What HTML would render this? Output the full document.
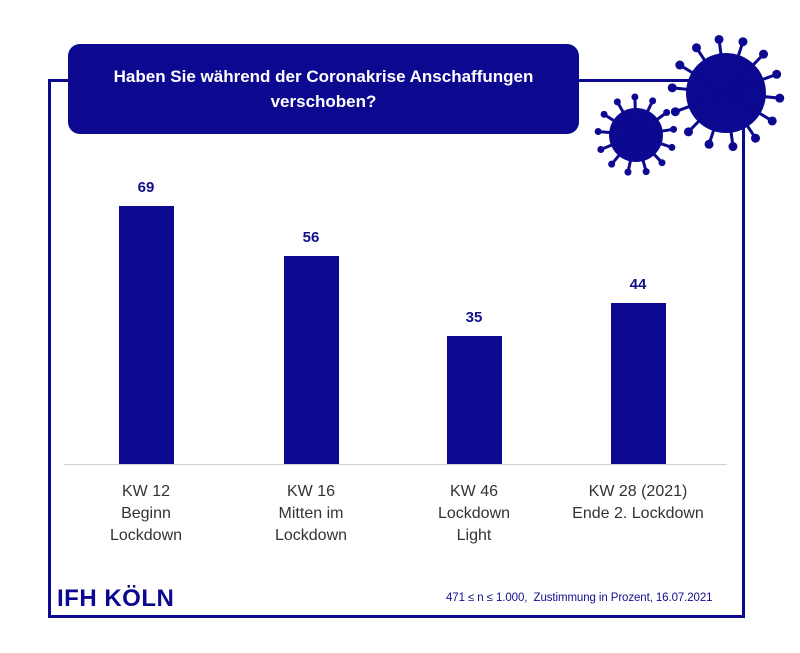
<!DOCTYPE html>
<html><head><meta charset="utf-8"><style>
html,body{margin:0;padding:0;background:#fff;}
body{width:800px;height:653px;position:relative;overflow:hidden;font-family:"Liberation Sans",sans-serif;}
.a{position:absolute;}
.lbl{position:absolute;width:160px;text-align:center;font-size:16px;line-height:22px;color:#333;}
.val{position:absolute;width:80px;text-align:center;font-size:15px;font-weight:bold;color:#10108a;}
.bar{position:absolute;background:#0c0890;width:55px;}
</style></head><body>
<div class="a" style="left:48px;top:79px;width:691px;height:533px;border:3px solid #0c0890;"></div>
<div class="a" style="left:68px;top:44px;width:511px;height:90px;background:#0c0890;border-radius:12px;color:#fff;font-weight:bold;font-size:17px;line-height:25px;text-align:center;display:flex;align-items:center;justify-content:center;">Haben Sie während der Coronakrise Anschaffungen<br>verschoben?</div>
<svg class="a" style="left:0;top:0" width="800" height="653" id="sv"></svg>
<div class="a" style="left:64px;top:464px;width:663px;height:1px;background:#d0d0d0;"></div>
<div class="bar" style="left:119px;top:206px;height:258px"></div>
<div class="bar" style="left:284px;top:256px;height:208px"></div>
<div class="bar" style="left:447px;top:336px;height:128px"></div>
<div class="bar" style="left:611px;top:303px;height:161px"></div>
<div class="val" style="left:106px;top:179px">69</div>
<div class="val" style="left:271px;top:229px">56</div>
<div class="val" style="left:434px;top:309px">35</div>
<div class="val" style="left:598px;top:276px">44</div>
<div class="lbl" style="left:66px;top:481px">KW 12<br>Beginn<br>Lockdown</div>
<div class="lbl" style="left:231px;top:481px">KW 16<br>Mitten im<br>Lockdown</div>
<div class="lbl" style="left:394px;top:481px">KW 46<br>Lockdown<br>Light</div>
<div class="lbl" style="left:558px;top:481px">KW 28 (2021)<br>Ende 2. Lockdown</div>
<div class="a" style="left:57px;top:585px;font-size:24px;font-weight:bold;color:#0c0890;letter-spacing:0.5px;">IFH KÖLN</div>
<div class="a" style="left:446px;top:592px;font-size:11.5px;color:#10108a;letter-spacing:-0.1px;">471 ≤ n ≤ 1.000,&nbsp; Zustimmung in Prozent, 16.07.2021</div>
<script>
var s=document.getElementById('sv'),h='';
function v(cx,cy,r,n,L,kr,off){h+='<circle cx="'+cx+'" cy="'+cy+'" r="'+r+'" fill="#0c0890"/>';
for(var i=0;i<n;i++){var a=off+i*2*Math.PI/n,x=cx+Math.cos(a)*(r+L),y=cy+Math.sin(a)*(r+L);
h+='<line x1="'+cx+'" y1="'+cy+'" x2="'+x+'" y2="'+y+'" stroke="#0c0890" stroke-width="3"/><circle cx="'+x+'" cy="'+y+'" r="'+kr+'" fill="#0c0890"/>';}}
v(726,93,40,14,14,4.5,-1.7);
v(636,135,27,13,11,3.5,-1.6);
s.innerHTML=h;
</script>
</body></html>
